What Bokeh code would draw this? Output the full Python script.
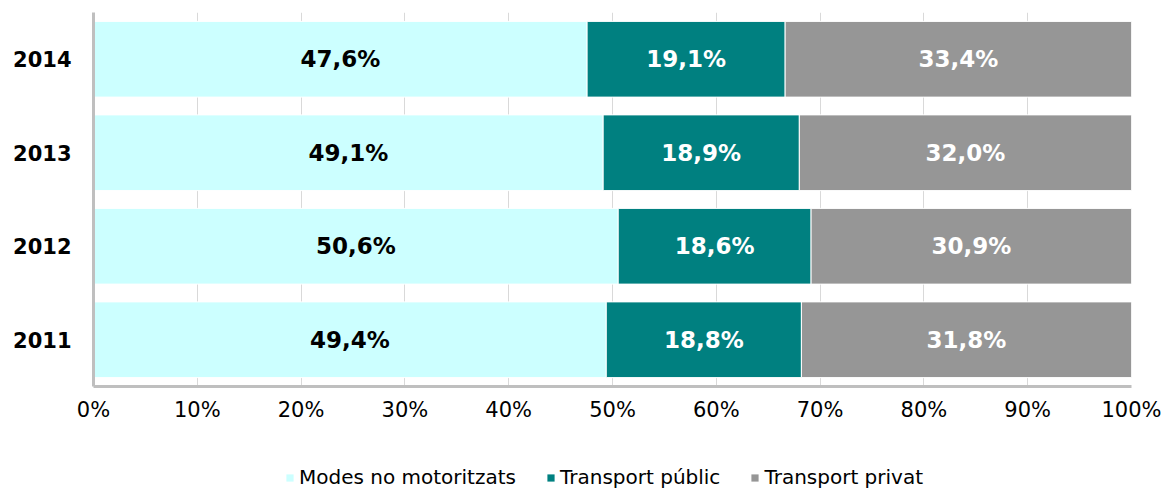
from bokeh.plotting import figure
from bokeh.models import ColumnDataSource, Range1d, FactorRange, Legend, LegendItem, FixedTicker
from bokeh.layouts import column
from bokeh.core.properties import value
from bokeh.embed import file_html
from bokeh.resources import INLINE

years = ["2011", "2012", "2013", "2014"]
modes = [49.4, 50.6, 49.1, 47.6]
public = [18.8, 18.6, 18.9, 19.1]
private = [31.8, 30.9, 32.0, 33.4]
series_names = ["Modes no motoritzats", "Transport públic", "Transport privat"]
colors = ["#CCFFFF", "#008080", "#969696"]
label_colors = ["#000000", "#FFFFFF", "#FFFFFF"]
x_ticks = [0, 10, 20, 30, 40, 50, 60, 70, 80, 90, 100]

series = [modes, public, private]
totals = [a + b + c for a, b, c in zip(modes, public, private)]

FONT = "DejaVu Sans"

p = figure(width=1165, height=424, y_range=FactorRange(factors=years, range_padding=0),
           x_range=Range1d(0, 100), output_backend="svg", toolbar_location=None,
           min_border_left=93, min_border_right=34, min_border_top=12, min_border_bottom=36)
p.outline_line_color = None
p.background_fill_color = "white"

left = [0.0] * len(years)
for vals, col, lc in zip(series, colors, label_colors):
    norm = [v / t * 100 for v, t in zip(vals, totals)]
    right = [l + n for l, n in zip(left, norm)]
    src = ColumnDataSource(dict(
        y=years, left=left, right=right,
        mid=[(l + r) / 2 for l, r in zip(left, right)],
        txt=[("%.1f" % v).replace(".", ",") + "%" for v in vals],
    ))
    p.hbar(y="y", left="left", right="right", height=0.81, source=src,
           fill_color=col, line_color="white", line_width=1)
    p.text(x="mid", y="y", text="txt", source=src, text_align="center", text_baseline="middle",
           text_font=value(FONT), text_font_size="23px", text_font_style="bold", text_color=lc)
    left = right

p.xgrid.grid_line_color = "#D9D9D9"
p.xgrid.ticker = FixedTicker(ticks=x_ticks)
p.ygrid.grid_line_color = None

p.xaxis.ticker = FixedTicker(ticks=x_ticks)
p.xaxis.major_label_overrides = {t: f"{t}%" for t in x_ticks}
p.xaxis.axis_line_color = "#BFBFBF"
p.xaxis.axis_line_width = 3
p.xaxis.major_tick_line_color = None
p.xaxis.minor_tick_line_color = None
p.xaxis.major_tick_out = 0
p.xaxis.major_tick_in = 0
p.xaxis.major_label_text_font = FONT
p.xaxis.major_label_text_font_size = "21px"
p.xaxis.major_label_text_color = "#000000"
p.xaxis.major_label_standoff = 11

p.yaxis.axis_line_color = "#BFBFBF"
p.yaxis.axis_line_width = 3
p.yaxis.major_tick_line_color = None
p.yaxis.minor_tick_line_color = None
p.yaxis.major_tick_out = 0
p.yaxis.major_tick_in = 0
p.yaxis.major_label_text_font = FONT
p.yaxis.major_label_text_font_size = "21px"
p.yaxis.major_label_text_font_style = "bold"
p.yaxis.major_label_text_color = "#000000"
p.yaxis.major_label_standoff = 22

# legend strip below the chart (legend-only renderers carry no visible data)
q = figure(width=1165, height=64, x_range=Range1d(0, 1), y_range=Range1d(0, 1),
           output_backend="svg", toolbar_location=None,
           min_border_left=0, min_border_right=0, min_border_top=0, min_border_bottom=0,
           x_axis_type=None, y_axis_type=None)
q.outline_line_color = None
q.xgrid.visible = False
q.ygrid.visible = False
nan = float("nan")
dummies = []
for col in colors:
    dummies.append(q.hbar(y=[nan], left=[nan], right=[nan], height=1, fill_color=col, line_color=None))

legend = Legend(items=[LegendItem(label=n, renderers=[r]) for n, r in zip(series_names, dummies)],
                orientation="horizontal", location=(192, -1),
                border_line_color=None, background_fill_alpha=0,
                padding=0, margin=0, spacing=30, glyph_width=9, glyph_height=9,
                label_standoff=5, label_height=18,
                label_text_font=FONT, label_text_font_size="20px", label_text_color="#000000")
q.add_layout(legend, "center")

open("out.html", "w").write(file_html(column(p, q, spacing=0), INLINE))
